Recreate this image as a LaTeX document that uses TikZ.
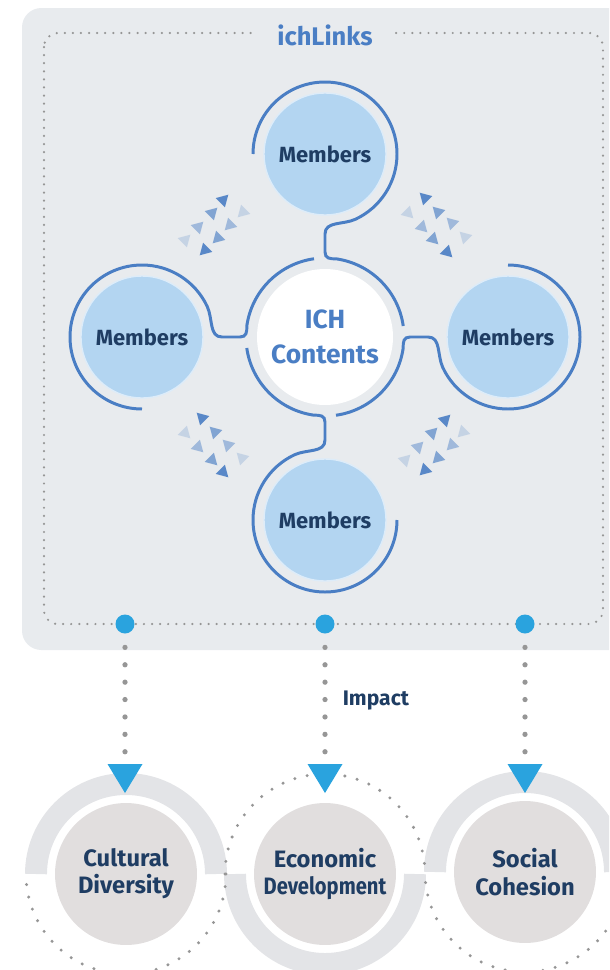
\documentclass[tikz,border=0pt]{standalone}
\usepackage{fontspec}
\setmainfont{Fira Sans}
\usetikzlibrary{positioning}

\definecolor{ichblue}{RGB}{74,126,196}
\definecolor{memfill}{RGB}{179,213,241}
\definecolor{navy}{RGB}{31,61,99}
\definecolor{panelgray}{RGB}{232,235,238}
\definecolor{hubcyan}{RGB}{42,163,222}
\definecolor{goalfill}{RGB}{225,222,222}
\definecolor{ringgray}{RGB}{227,228,231}
\definecolor{dotgray}{RGB}{150,150,150}

\tikzset{
  member/.style={circle, fill=memfill, draw=memfill!45!white, line width=0.8pt,
    minimum size=2.44cm, inner sep=0pt, text=navy, font=\fontsize{12.5}{15}\selectfont\bfseries},
  core/.style={circle, fill=white, minimum size=2.72cm, inner sep=0pt, align=center,
    text=ichblue, font=\fontsize{15}{20}\selectfont\bfseries},
  loopline/.style={draw=ichblue, line width=1.7pt},
  flow/.style={fill=ichblue},
  frame/.style={draw=dotgray, line width=1.4pt, line cap=round, dash pattern=on 0pt off 4.6pt, rounded corners=8pt},
  title/.style={fill=panelgray, inner xsep=13pt, inner ysep=2pt, text=ichblue, font=\fontsize{14.5}{16}\selectfont\bfseries},
  hub/.style={circle, fill=hubcyan, minimum size=0.38cm, inner sep=0pt},
  vdots/.style={draw=dotgray, line width=3pt, line cap=round, dash pattern=on 0pt off 9.9pt},
  impact/.style={text=navy, font=\fontsize{12}{14}\selectfont\bfseries},
  goal/.style={circle, fill=goalfill, minimum size=2.84cm, inner sep=0pt, align=center,
    text=navy, font=\fontsize{13.5}{15.5}\selectfont\bfseries},
  halfring/.style={draw=ringgray, line width=12.5pt},
  halfdots/.style={draw=dotgray, line width=1.9pt, line cap=round, dash pattern=on 0pt off 7.2pt}
}

\begin{document}
\begin{tikzpicture}[x=0.02cm, y=-0.02cm]
\clip (0,0) rectangle (609,970);
\fill[panelgray, rounded corners=11pt] (22,8) rectangle (660,650);
\draw[frame] (44,33) rectangle (603,624);
\node[title] (title) at (325,35) {ichLinks};

% member loops, turned round the centre
\foreach \r in {0,-90,-180,-270}
	\draw[loopline, rotate around={\r:(325,337)}] (253,154) arc[start angle=180, end angle=425, radius=72]
		.. controls (343,225) and (325,221) .. (325,234) -- (325,252)
		.. controls (325,258.5) and (330,259) .. (336,258.8)
		arc[start angle=278, end angle=352, radius=79];

\node[core] (ich) at (325,337) {ICH\\Contents};
\node[member] (mtop) at (325,154) {Members};
\node[member] (mright) at (508,337) {Members};
\node[member] (mbottom) at (325,520) {Members};
\node[member] (mleft) at (142,337) {Members};

% exchange arrows
\foreach \x/\y/\a/\o in {185/240/45/0.22, 198/227/45/0.45, 212/213/45/0.65, 223/200/45/0.9,
		243/212/225/0.22, 230/225/225/0.45, 218/238/225/0.65, 205/250/225/0.9,
		465/237/135/0.22, 452/223/135/0.45, 438/212/135/0.65, 425/198/135/0.9,
		408/213/-45/0.22, 422/227/-45/0.45, 433/239/-45/0.65, 447/252/-45/0.9,
		242/458/135/0.22, 228/445/135/0.45, 215/432/135/0.65, 202/418/135/0.9,
		185/433/-45/0.22, 198/447/-45/0.45, 212/460/-45/0.65, 223/472/-45/0.9,
		405/460/45/0.22, 418/447/45/0.45, 432/433/45/0.65, 445/420/45/0.9,
		463/432/225/0.22, 452/445/225/0.45, 438/458/225/0.65, 425/470/225/0.9}
	\fill[flow, opacity=\o, shift={(\x,\y)}, rotate=\a] (7.5,0) -- (-3.8,6.5) -- (-3.8,-6.5) -- cycle;

% impact
\node[goal] (g1) at (126,874) {Cultural\\Diversity};
\node[goal] (g2) at (325,874) {Economic\\\scalebox{0.85}[1]{Development}};
\node[goal] (g3) at (525,872) {Social\\Cohesion};
\draw[halfring] (g1.center) ++(-90,0) arc[start angle=180, end angle=360, radius=90];
\draw[halfring] (g2.center) ++(90,0) arc[start angle=0, end angle=180, radius=90];
\draw[halfring] (g3.center) ++(-90,0) arc[start angle=180, end angle=360, radius=90];
\draw[halfdots] (g1.center) ++(100,0) arc[start angle=0, end angle=180, radius=100];
\draw[halfdots] (g2.center) ++(-100,0) arc[start angle=180, end angle=360, radius=100];
\draw[halfdots] (g3.center) ++(100,0) arc[start angle=0, end angle=180, radius=100];

\foreach \i/\x in {1/125,2/325,3/525}{
	\node[hub] (d\i) at (\x,624) {};
	\coordinate (t\i) at (\x,764);
	\draw[vdots, shorten <=7.7pt, shorten >=6.5pt] (d\i) -- (t\i);
	\fill[hubcyan] (t\i) ++(-17.5,0) -- ++(35,0) -- ++(-17.5,29) -- cycle;
	}
\node[impact, right=1pt of d2, yshift=-1.54cm] (lbl) {Impact};
\end{tikzpicture}
\end{document}
